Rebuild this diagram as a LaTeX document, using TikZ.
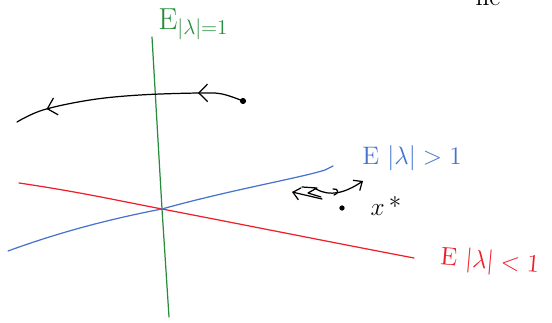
\documentclass[tikz,border=0pt]{standalone}
\usepackage{amsmath}
\usepackage{tikz}
\usetikzlibrary{arrows.meta,decorations.markings}
\definecolor{pengreen}{RGB}{40,140,60}
\definecolor{penred}{RGB}{240,30,40}
\definecolor{penblue}{RGB}{70,115,205}

\begin{document}
\begin{tikzpicture}[x=0.02cm,y=-0.02cm,
          every node/.style={font=\Large},
          pen/.style={line width=0.7pt,line cap=round,line join=round},
          dot/.style={circle,fill=black,inner sep=0pt,minimum size=3.5pt},
          barb/.style={-{Straight Barb[length=4pt,width=7pt]}},
          chev/.style={postaction={decorate},decoration={markings,
            mark=at position 0.2 with {\arrow{Straight Barb[length=5pt,width=10pt]}},
            mark=at position 0.86 with {\arrow{Straight Barb[length=5pt,width=10pt]}}}},
        ]
        \useasboundingbox (0,0) rectangle (552,323);
        % the three eigenspaces through the fixed point
        \coordinate (fp) at (162,209);
        \coordinate (g1) at (152,37);
        \coordinate (g2) at (169,317);
        \draw[pen,pengreen] (g1) -- (fp) -- (g2);
        \draw[pen,penred] (19,183) .. controls (80,192) and (120,201) .. (fp)
          .. controls (240,224) and (330,242) .. (414,258);
        \draw[pen,penblue] (8,251) .. controls (60,232) and (110,219) .. (fp)
          .. controls (230,190) and (300,178) .. (325,170) -- (333,166);
        \node[pengreen,anchor=west,inner sep=0pt] (lgreen) at (158,24) {\LARGE E$_{|\lambda|=1}$};
        \node[penblue,anchor=west,inner sep=0pt] (lblue) at (362,158) {E $|\lambda|>1$};
        \node[penred,anchor=west,inner sep=0pt,rotate=-5] (lred) at (440,258) {E $|\lambda|<1$};
        % orbit far from x*
        \node[dot] (p0) at (243,101) {};
        \draw[pen,chev] plot[smooth,tension=0.6] coordinates
          {(p0) (222,94) (200,93) (140,95) (90,100) (43,110) (17,122)};
        % motion near x*
        \draw[pen,barb] (322,199) -- (292,192);
        \draw[pen] (302,187) -- (317,188) -- (308,193) -- (321,197);
        \draw[pen,barb] (316,189) .. controls (330,197) and (345,193) .. (363,181);
        \draw[pen] (333,189) .. controls (339,188) and (339,194) .. (334,195);
        \node[dot,minimum size=3pt] (xs) at (342,208) {};
        \node (lxs) at (386,206) {$x$\,*};
        \node[anchor=base] (ne) at (488,6) {ne};
      \end{tikzpicture}
\end{document}
